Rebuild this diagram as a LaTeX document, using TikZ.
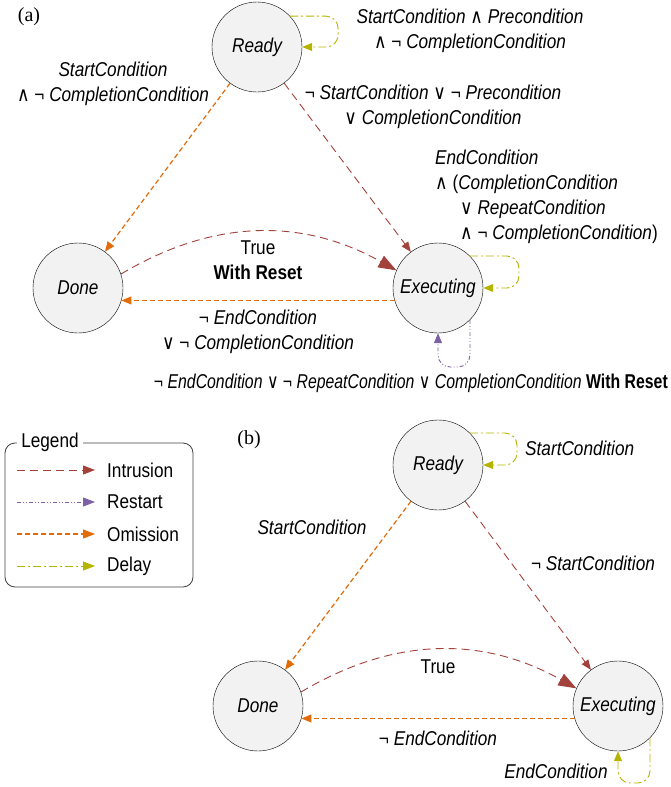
\documentclass[tikz,border=0pt]{standalone}
\usepackage{fontspec}
\setmainfont[FakeStretch=0.86]{Liberation Sans}
\newfontfamily\symfont[FakeStretch=0.86]{DejaVu Sans}
\newfontfamily\tagfont{Liberation Serif}
\usetikzlibrary{arrows.meta}

\newcommand{\opand}{{\symfont ∧}}
\newcommand{\opor}{{\symfont ∨}}
\newcommand{\opnot}{¬}

\definecolor{intrusioncol}{HTML}{A3413B}
\definecolor{restartcol}{HTML}{7C62A4}
\definecolor{omissioncol}{HTML}{E26B0A}
\definecolor{delaycol}{HTML}{B5B500}

\tikzset{
  state/.style={circle,draw,fill=gray!10,minimum size=90pt,inner sep=0pt,font=\itshape},
  arrowtip/.style={-{Triangle[length=10pt,width=8pt]}},
  bigtip/.style={-{Triangle[length=18pt,width=13pt]}},
  intrusion/.style={intrusioncol,line width=0.9pt,dash pattern=on 8pt off 5pt,arrowtip},
  restart/.style={restartcol,line width=0.9pt,dash pattern=on 4pt off 2pt on 1pt off 2pt on 1pt off 2pt,arrowtip},
  omission/.style={omissioncol,line width=1.2pt,dash pattern=on 5pt off 3pt,arrowtip},
  delay/.style={delaycol,line width=0.9pt,dash pattern=on 8pt off 3pt on 2pt off 3pt,arrowtip},
  cond/.style={align=center,inner sep=0pt}
}

\begin{document}
\fontsize{20}{25}\selectfont
\begin{tikzpicture}[x=1pt,y=-1pt]
            \useasboundingbox (0,0) rectangle (671,787);

            % Positions of the states
            \coordinate (PRA) at (257,47);
            \coordinate (PDA) at (78,288);
            \coordinate (PEA) at (438,288);
            \coordinate (PRB) at (438,465);
            \coordinate (PDB) at (258,706);
            \coordinate (PEB) at (618,706);

            % Draw panel tags
            \node[font=\tagfont] (tagA) at (29,17) {(a)};
            \node[font=\tagfont] (tagB) at (249,440) {(b)};

            % Draw states of (a)
            \node[state] (ReadyA) at (PRA) {Ready};
            \node[state] (DoneA) at (PDA) {Done};
            \node[state] (ExecA) at (PEA) {Executing};

            % Draw transitions of (a)
            \draw[delay,rounded corners=12pt] (ReadyA.43) -- ++(48,0) |- (ReadyA.0);
            \draw[omission] (ReadyA) -- (DoneA);
            \draw[intrusion] (ReadyA) -- (ExecA);
            \draw[intrusion,bigtip] (DoneA.18) to[bend left=30] (ExecA.157);
            \draw[omission] (ExecA.196) -- (DoneA.-16);
            \draw[delay,rounded corners=12pt] (ExecA.45) -- ++(49,0) |- (ExecA.0);
            \draw[restart,rounded corners=12pt] (ExecA.-45) -- ++(0,47) -| (ExecA.south);

            % Draw conditions of (a)
            \node[cond] (cA1) at (470,31) {\textit{StartCondition} \opand{} \textit{Precondition}\\\opand{} \opnot{} \textit{CompletionCondition}};
            \node[cond] (cA2) at (113,84) {\textit{StartCondition}\\\opand{} \opnot{} \textit{CompletionCondition}};
            \node[cond] (cA3) at (433,107) {\opnot{} \textit{StartCondition} \opor{} \opnot{} \textit{Precondition}\\\opor{} \textit{CompletionCondition}};
            \node[cond,align=left,anchor=west] (cA4) at (435,197) {\textit{EndCondition}\\\opand{} (\textit{CompletionCondition}\\\hspace*{25pt}\opor{} \textit{RepeatCondition}\\\hspace*{25pt}\opand{} \opnot{} \textit{CompletionCondition})};
            \node[cond] (cA5) at (258,260) {True\\\textbf{With Reset}};
            \node[cond] (cA6) at (258,332) {\opnot{} \textit{EndCondition}\\\opor{} \opnot{} \textit{CompletionCondition}};
            \node[cond,anchor=east] (cA7) at (668,383) {\scalebox{0.92}[1]{\opnot{} \textit{EndCondition} \opor{} \opnot{} \textit{RepeatCondition} \opor{} \textit{CompletionCondition} \textbf{With Reset}}};

            % Draw legend
            \draw[rounded corners=10pt,black!75,line width=0.8pt] (5,443) rectangle (193,587);
            \node[fill=white,inner xsep=4pt,inner ysep=1pt] (legend) at (50,442) {Legend};
            \coordinate (L1s) at (17,470); \coordinate (L1e) at (95,470);
            \coordinate (L2s) at (17,502); \coordinate (L2e) at (95,502);
            \coordinate (L3s) at (17,534); \coordinate (L3e) at (95,534);
            \coordinate (L4s) at (17,566); \coordinate (L4e) at (95,566);
            \draw[intrusion,-{Triangle[length=12pt,width=9pt]}] (L1s) -- (L1e);
            \draw[restart,-{Triangle[length=12pt,width=9pt]}] (L2s) -- (L2e);
            \draw[omission,-{Triangle[length=12pt,width=9pt]}] (L3s) -- (L3e);
            \draw[delay,-{Triangle[length=12pt,width=9pt]}] (L4s) -- (L4e);
            \node[anchor=west,inner sep=0pt] (lab1) at (107,470) {Intrusion};
            \node[anchor=west,inner sep=0pt] (lab2) at (107,502) {Restart};
            \node[anchor=west,inner sep=0pt] (lab3) at (107,534) {Omission};
            \node[anchor=west,inner sep=0pt] (lab4) at (107,566) {Delay};

            % Draw states of (b)
            \node[state] (ReadyB) at (PRB) {Ready};
            \node[state] (DoneB) at (PDB) {Done};
            \node[state] (ExecB) at (PEB) {Executing};

            % Draw transitions of (b)
            \draw[delay,rounded corners=12pt] (ReadyB.45) -- ++(47,0) |- (ReadyB.0);
            \draw[omission] (ReadyB) -- (DoneB);
            \draw[intrusion] (ReadyB) -- (ExecB);
            \draw[intrusion,bigtip] (DoneB.18) to[bend left=30] (ExecB.157);
            \draw[omission] (ExecB.196) -- (DoneB.-16);
            \draw[delay,rounded corners=12pt] (ExecB.-45) -- ++(0,45) -| (ExecB.south);

            % Draw conditions of (b)
            \node[cond,anchor=west] (cB1) at (525,448) {\textit{StartCondition}};
            \node[cond] (cB2) at (312,527) {\textit{StartCondition}};
            \node[cond] (cB3) at (593,563) {\opnot{} \textit{StartCondition}};
            \node[cond] (cB4) at (438,667) {True};
            \node[cond] (cB5) at (438,738) {\opnot{} \textit{EndCondition}};
            \node[cond] (cB6) at (556,771) {\textit{EndCondition}};
\end{tikzpicture}
\end{document}
